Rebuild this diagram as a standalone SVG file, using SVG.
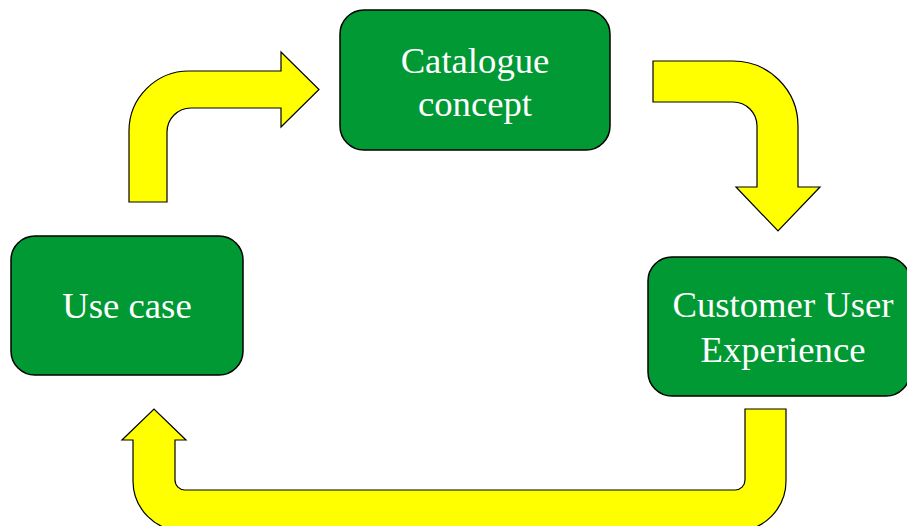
<svg xmlns="http://www.w3.org/2000/svg" width="907" height="526" viewBox="0 0 907 526">
<style>
.box{fill:#009933;stroke:#000;stroke-width:1.5}
.arr{fill:#FFFF00;stroke:#000;stroke-width:1.2;stroke-linejoin:miter}
.lbl{font-family:"Liberation Serif","Times New Roman",serif;font-size:36.7px;fill:#fff;text-anchor:middle}
</style>
<rect width="907" height="526" fill="#fff"/>
<g id="connectors">
<path class="arr" d="M129,202 L129,131 A60,60 0 0 1 189,71 L281,71 L281,52 L319,89.5 L281,127 L281,108 L191,108 A24,24 0 0 0 167,132 L167,202 Z"/>
<path class="arr" d="M653,61 L733,61 A65,65 0 0 1 798,126 L798,187 L820,187 L778,231 L736,187 L757,187 L757,126 A24,24 0 0 0 733,102 L653,102 Z"/>
<path class="arr" d="M786,409 L786,481 A50,50 0 0 1 736,531 L183,531 A50,50 0 0 1 133,481 L133,440 L122,440 L154,409 L186,440 L175,440 L175,480 A10,10 0 0 0 185,490 L735,490 A10,10 0 0 0 745,480 L745,409 Z"/>
</g>
<g id="catalogue">
<rect class="box" x="340" y="10" width="270" height="140" rx="24"/>
<text class="lbl" x="475" y="73">Catalogue</text>
<text class="lbl" x="475" y="116">concept</text>
</g>
<g id="customer">
<rect class="box" x="648" y="257" width="262" height="139" rx="24"/>
<text class="lbl" x="783" y="317">Customer User</text>
<text class="lbl" x="783" y="362">Experience</text>
</g>
<g id="usecase">
<rect class="box" x="11" y="236" width="232" height="139" rx="24"/>
<text class="lbl" x="127" y="318">Use case</text>
</g>
</svg>
